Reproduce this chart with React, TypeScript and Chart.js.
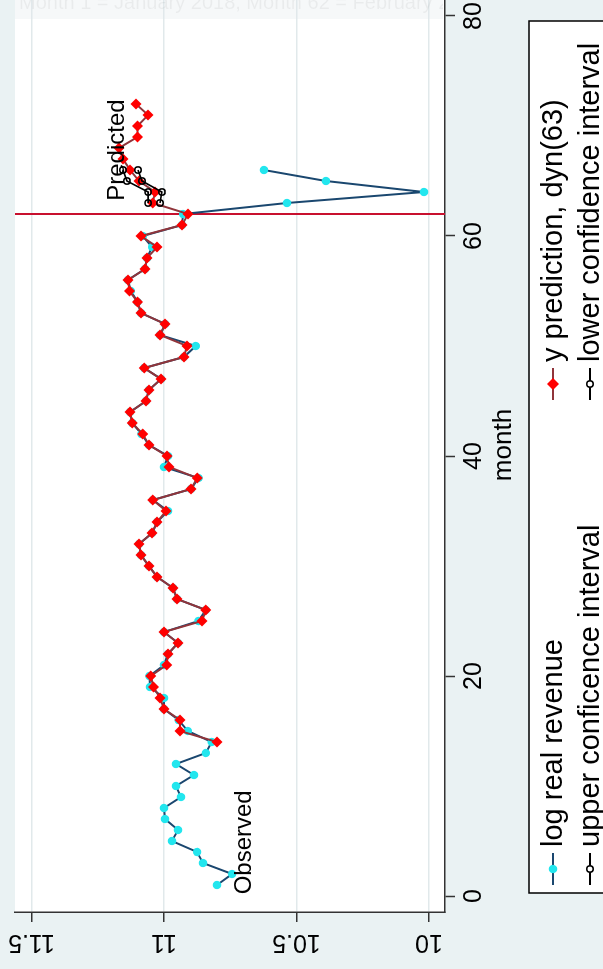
import { useEffect, useRef } from "react";
import { Chart, registerables } from "chart.js";

Chart.register(...registerables);

// ---------------- data ----------------
const obsMonths = [
  1, 2, 3, 4, 5, 6, 7, 8, 9, 10, 11, 12, 13, 14, 15, 16, 17, 18, 19, 20,
  21, 22, 23, 24, 25, 26, 27, 28, 29, 30, 31, 32, 33, 34, 35, 36, 37, 38, 39, 40,
  41, 42, 43, 44, 45, 46, 47, 48, 49, 50, 51, 52, 53, 54, 55, 56, 57, 58, 59, 60,
  61, 62, 63, 64, 65, 66,
];
const obsValues = [
  10.8, 10.743, 10.853, 10.875, 10.97, 10.947, 10.996, 11.0, 10.936, 10.955,
  10.887, 10.955, 10.842, 10.82, 10.91, 10.945, 11.0, 11.0, 11.053, 11.055,
  11.0, 10.985, 10.947, 11.0, 10.87, 10.842, 10.951, 10.966, 11.026, 11.057,
  11.087, 11.094, 11.045, 11.026, 10.985, 11.042, 10.898, 10.87, 11.0, 10.985,
  11.057, 11.085, 11.12, 11.128, 11.068, 11.057, 11.011, 11.075, 10.925, 10.88,
  11.015, 10.996, 11.087, 11.1, 11.125, 11.136, 11.072, 11.064, 11.045, 11.08,
  10.932, 10.928, 10.536, 10.019, 10.389, 10.623,
];
const predMonths = [
  14, 15, 16, 17, 18, 19, 20, 21, 22, 23, 24, 25, 26, 27, 28, 29, 30, 31, 32, 33,
  34, 35, 36, 37, 38, 39, 40, 41, 42, 43, 44, 45, 46, 47, 48, 49, 50, 51, 52, 53,
  54, 55, 56, 57, 58, 59, 60, 61, 62, 63, 64, 65, 66, 67, 68, 69, 70, 71, 72,
];
const predValues = [
  10.8, 10.94, 10.94, 11.0, 11.015, 11.04, 11.05, 10.99, 10.985, 10.947,
  11.0, 10.857, 10.842, 10.951, 10.966, 11.026, 11.057, 11.087, 11.094, 11.045,
  11.026, 10.992, 11.042, 10.898, 10.875, 10.981, 10.989, 11.057, 11.08, 11.12,
  11.128, 11.068, 11.057, 11.011, 11.075, 10.925, 10.913, 11.015, 10.996, 11.087,
  11.1, 11.13, 11.136, 11.072, 11.064, 11.026, 11.087, 10.932, 10.909, 11.042,
  11.034, 11.094, 11.128, 11.155, 11.17, 11.1, 11.1, 11.06, 11.106,
];
const ciMonths = [63, 64, 65, 66];
const upperCI = [11.06, 11.06, 11.14, 11.155];
const lowerCI = [11.015, 11.008, 11.083, 11.098];

const monthTicks = [0, 20, 40, 60, 80];
const valueTicks = [10, 10.5, 11, 11.5];
const valueTickLabels = ["10", "10.5", "11", "11.5"];
const xLineMonth = 62;
const axisTitle = "month";
const seriesLabels = [
  "log real revenue",
  "y prediction, dyn(63)",
  "upper conficence interval",
  "lower confidence interval",
];
const noteText = "Month 1 = January 2018, Month 62 = February 2020";
const observedLabel = { text: "Observed", month: 0.15, value: 10.698 };
const predictedLabel = { text: "Predicted", month: 63.2, value: 11.175 };

// ---------------- layout / style ----------------
const W = 1010; // unrotated canvas width
const H = 603; // unrotated canvas height
const FONT = '"Liberation Sans", Arial, Helvetica, sans-serif';
const BG = "#eaf2f3";
const NAVY = "#1a476f";
const CYAN = "#22e6ee";
const MAROON = "#90353b";
const RED = "#ff0000";
const AXIS = "#333333";

function drawMarker(ctx: CanvasRenderingContext2D, kind: string, x: number, y: number) {
  ctx.save();
  if (kind === "circle") {
    ctx.fillStyle = CYAN;
    ctx.beginPath();
    ctx.arc(x, y, 4.2, 0, Math.PI * 2);
    ctx.fill();
  } else if (kind === "diamond") {
    ctx.fillStyle = RED;
    const r = 6;
    ctx.beginPath();
    ctx.moveTo(x, y - r);
    ctx.lineTo(x + r, y);
    ctx.lineTo(x, y + r);
    ctx.lineTo(x - r, y);
    ctx.closePath();
    ctx.fill();
  } else {
    ctx.strokeStyle = "#000";
    ctx.lineWidth = 1.5;
    ctx.fillStyle = "#fff";
    ctx.beginPath();
    ctx.arc(x, y, 3.2, 0, Math.PI * 2);
    ctx.fill();
    ctx.stroke();
  }
  ctx.restore();
}

const stataPlugin = {
  id: "stataLook",
  beforeDraw(chart: any) {
    const { ctx, chartArea: a } = chart;
    ctx.save();
    ctx.fillStyle = BG;
    ctx.fillRect(0, 0, chart.width, chart.height);
    ctx.fillStyle = "#ffffff";
    ctx.fillRect(a.left, a.top, a.right - a.left, a.bottom - a.top);
    ctx.restore();
  },
  beforeDatasetsDraw(chart: any) {
    const { ctx, chartArea: a, scales } = chart;
    const x = scales.x.getPixelForValue(xLineMonth);
    ctx.save();
    ctx.strokeStyle = "#c8102e";
    ctx.lineWidth = 2;
    ctx.beginPath();
    ctx.moveTo(x, a.top);
    ctx.lineTo(x, a.bottom);
    ctx.stroke();
    ctx.restore();
  },
  afterDraw(chart: any) {
    const { ctx, chartArea: a, scales } = chart;
    ctx.save();
    // value-axis labels (vertical, Stata style)
    ctx.fillStyle = "#000";
    ctx.font = `25px ${FONT}`;
    ctx.textAlign = "center";
    ctx.textBaseline = "middle";
    valueTicks.forEach((v, i) => {
      const y = scales.y.getPixelForValue(v);
      ctx.save();
      ctx.translate(27, y);
      ctx.rotate(-Math.PI / 2);
      ctx.fillText(valueTickLabels[i], 0, 0);
      ctx.restore();
    });
    // axis title
    ctx.font = `26px ${FONT}`;
    ctx.fillText(axisTitle, (a.left + a.right) / 2, 504);

    // annotations
    ctx.font = `24px ${FONT}`;
    ctx.textAlign = "left";
    for (const t of [observedLabel, predictedLabel]) {
      ctx.fillText(t.text, scales.x.getPixelForValue(t.month), scales.y.getPixelForValue(t.value));
    }

    // legend
    const u0 = 76, u1 = 948, v0 = 529, v1 = 690;
    ctx.fillStyle = "#ffffff";
    ctx.fillRect(u0, v0, u1 - u0, v1 - v0);
    ctx.strokeStyle = "#000";
    ctx.lineWidth = 1.5;
    ctx.strokeRect(u0, v0, u1 - u0, v1 - v0);
    const cols = [100, 585];
    const rows = [553, 590];
    const lineColors = [NAVY, MAROON, "#000", "#000"];
    const markers = ["circle", "diamond", "hollow", "hollow"];
    ctx.font = `29px ${FONT}`;
    ctx.textBaseline = "middle";
    ctx.textAlign = "left";
    seriesLabels.forEach((label, i) => {
      const cx = cols[i % 2];
      const cy = rows[Math.floor(i / 2)];
      ctx.strokeStyle = lineColors[i];
      ctx.lineWidth = 2;
      ctx.beginPath();
      ctx.moveTo(cx - 16, cy);
      ctx.lineTo(cx + 16, cy);
      ctx.stroke();
      drawMarker(ctx, markers[i], cx, cy);
      ctx.fillStyle = "#000";
      ctx.fillText(label, cx + 22, cy + 1);
    });
    ctx.restore();
  },
};

function pts(xs: number[], ys: number[]) {
  return xs.map((x, i) => ({ x, y: ys[i] }));
}

export default function App() {
  const ref = useRef<HTMLCanvasElement>(null);

  useEffect(() => {
    if (!ref.current) return;
    const chart = new Chart(ref.current, {
      type: "line",
      data: {
        datasets: [
          {
            label: seriesLabels[0],
            data: pts(obsMonths, obsValues),
            borderColor: NAVY,
            borderWidth: 2,
            pointStyle: "circle",
            pointRadius: 4.2,
            pointBackgroundColor: CYAN,
            pointBorderColor: CYAN,
            pointBorderWidth: 0,
            tension: 0,
            order: 4,
          },
          {
            label: seriesLabels[1],
            data: pts(predMonths, predValues),
            borderColor: MAROON,
            borderWidth: 2,
            pointStyle: "rectRot",
            pointRadius: 5.5,
            pointBackgroundColor: RED,
            pointBorderColor: RED,
            pointBorderWidth: 0,
            tension: 0,
            order: 3,
          },
          {
            label: seriesLabels[2],
            data: pts(ciMonths, upperCI),
            borderColor: "#000",
            borderWidth: 1.6,
            pointStyle: "circle",
            pointRadius: 3.2,
            pointBackgroundColor: "rgba(255,255,255,0)",
            pointBorderColor: "#000",
            pointBorderWidth: 1.5,
            tension: 0,
            order: 2,
          },
          {
            label: seriesLabels[3],
            data: pts(ciMonths, lowerCI),
            borderColor: "#000",
            borderWidth: 1.6,
            pointStyle: "circle",
            pointRadius: 3.2,
            pointBackgroundColor: "rgba(255,255,255,0)",
            pointBorderColor: "#000",
            pointBorderWidth: 1.5,
            tension: 0,
            order: 1,
          },
        ],
      },
      options: {
        responsive: false,
        maintainAspectRatio: false,
        devicePixelRatio: 1,
        animation: false,
        layout: { padding: { left: 0, right: 19, top: 15, bottom: 0 } },
        plugins: { legend: { display: false }, tooltip: { enabled: false } },
        scales: {
          x: {
            type: "linear",
            min: -1.4545,
            max: 83.4545,
            afterBuildTicks: (s: any) => {
              s.ticks = monthTicks.map((v) => ({ value: v }));
            },
            afterFit: (s: any) => {
              s.height = 158;
            },
            grid: {
              drawOnChartArea: false,
              drawTicks: true,
              tickLength: 10,
              tickColor: AXIS,
              tickWidth: 1.5,
            },
            border: { display: true, color: AXIS, width: 1.5 },
            ticks: {
              autoSkip: false,
              maxRotation: 0,
              minRotation: 0,
              padding: 4,
              color: "#000",
              font: { family: FONT, size: 25 },
              callback: (v: any) => String(v),
            },
          },
          y: {
            type: "linear",
            min: 9.9396,
            max: 11.5623,
            afterBuildTicks: (s: any) => {
              s.ticks = valueTicks.map((v) => ({ value: v }));
            },
            afterFit: (s: any) => {
              s.width = 57;
            },
            grid: {
              drawOnChartArea: true,
              color: "#e1e9eb",
              lineWidth: 1.5,
              drawTicks: true,
              tickLength: 10,
              tickColor: AXIS,
              tickWidth: 1.5,
            },
            border: { display: true, color: AXIS, width: 1.5 },
            ticks: { display: false },
          },
        },
      },
      plugins: [stataPlugin],
    } as any);
    return () => chart.destroy();
  }, []);

  return (
    <div
      style={{
        position: "fixed",
        left: 0,
        top: 0,
        width: 603,
        height: 969,
        overflow: "hidden",
        background: BG,
      }}
    >
      <div
        style={{
          position: "absolute",
          left: 0,
          top: 0,
          width: W,
          height: H,
          transformOrigin: "0 0",
          transform: "translate(0px, 969px) rotate(-90deg)",
        }}
      >
        <canvas ref={ref} width={W} height={H} style={{ display: "block", width: W, height: H }} />
      </div>
      <div
        style={{
          position: "absolute",
          left: 15,
          top: 0,
          width: 428,
          height: 19,
          overflow: "hidden",
          background: "rgba(225,232,234,0.3)",
        }}
      >
        <div
          style={{
            position: "absolute",
            left: 4,
            top: -9,
            whiteSpace: "nowrap",
            font: `20px ${FONT}`,
            color: "rgba(0,0,0,0.05)",
          }}
        >
          {noteText}
        </div>
      </div>
    </div>
  );
}
